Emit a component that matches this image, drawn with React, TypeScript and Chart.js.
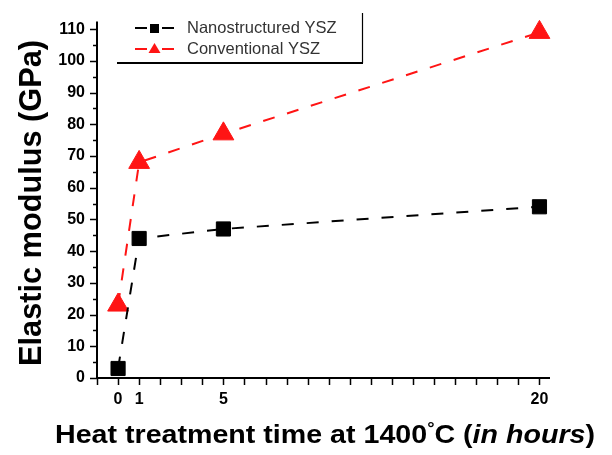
import React, { useEffect, useRef } from 'react';
import { Chart, registerables } from 'chart.js';
Chart.register(...registerables);

// ---- data ----
const hours = [0, 1, 5, 20];
const nanoYSZ = [3, 44, 47, 54];
const convYSZ = [23, 68, 77, 109];
const xLabelValues = [0, 1, 5, 20];
const seriesNames = ['Nanostructured YSZ', 'Conventional YSZ'];
const yAxisTitle = 'Elastic modulus (GPa)';
const xTitleParts = [
  { text: 'Heat treatment time at 1400', kind: 'normal' },
  { text: '°', kind: 'sup' },
  { text: 'C (', kind: 'normal' },
  { text: 'in hours', kind: 'italic' },
  { text: ')', kind: 'normal' },
];

const FONT = '"Liberation Sans", Arial, sans-serif';
const RED = '#ff1414';
const BLACK = '#000000';

const decorPlugin = {
  id: 'decor',
  afterDraw(chart: any) {
    const ctx = chart.ctx as CanvasRenderingContext2D;
    const xs = chart.scales.x;
    const ys = chart.scales.y;
    const area = chart.chartArea;
    ctx.save();
    ctx.strokeStyle = '#000';
    ctx.fillStyle = '#000';
    ctx.setLineDash([]);

    // axes lines
    ctx.lineWidth = 2;
    ctx.beginPath();
    ctx.moveTo(area.left, area.top);
    ctx.lineTo(area.left, area.bottom + 1);
    ctx.moveTo(area.left - 1, area.bottom);
    ctx.lineTo(area.right, area.bottom);
    ctx.stroke();

    // x ticks
    ctx.lineWidth = 1.5;
    ctx.beginPath();
    for (let v = -1; v <= 20; v++) {
      const px = Math.round(xs.getPixelForValue(v)) + 0.5;
      ctx.moveTo(px, area.bottom);
      ctx.lineTo(px, area.bottom + 7);
    }
    // y ticks
    for (let v = 0; v <= 110; v += 5) {
      const py = Math.round(ys.getPixelForValue(v)) + 0.5;
      const len = v % 10 === 0 ? 7 : 4;
      ctx.moveTo(area.left, py);
      ctx.lineTo(area.left - len, py);
    }
    ctx.stroke();

    // y title
    ctx.save();
    let ySize = 30;
    ctx.font = `bold ${ySize}px ${FONT}`;
    const w30 = ctx.measureText(yAxisTitle).width;
    ySize = Math.max(24, Math.min(34, (30 * 326) / w30));
    ctx.font = `bold ${ySize}px ${FONT}`;
    ctx.translate(41, 203);
    ctx.rotate(-Math.PI / 2);
    ctx.textAlign = 'center';
    ctx.textBaseline = 'alphabetic';
    ctx.fillText(yAxisTitle, 0, 0);
    ctx.restore();

    // x title
    ctx.save();
    const base = 25;
    const fontFor = (k: string) =>
      k === 'italic'
        ? `italic bold ${base}px ${FONT}`
        : k === 'sup'
        ? `bold ${Math.round(base * 0.62)}px ${FONT}`
        : `bold ${base}px ${FONT}`;
    let total = 0;
    const widths = xTitleParts.map((p) => {
      ctx.font = fontFor(p.kind);
      const w = ctx.measureText(p.text).width;
      total += w;
      return w;
    });
    const target = 540;
    const sx = target / total;
    ctx.translate(55, 443);
    ctx.scale(sx, 1);
    ctx.textAlign = 'left';
    ctx.textBaseline = 'alphabetic';
    let cx = 0;
    xTitleParts.forEach((p, i) => {
      ctx.font = fontFor(p.kind);
      const dy = p.kind === 'sup' ? -9 : 0;
      ctx.fillText(p.text, cx, dy);
      cx += widths[i];
    });
    ctx.restore();

    // legend
    ctx.lineWidth = 2;
    ctx.beginPath();
    ctx.moveTo(117, 63);
    ctx.lineTo(363, 63);
    ctx.stroke();
    ctx.lineWidth = 1.2;
    ctx.beginPath();
    ctx.moveTo(362.5, 13);
    ctx.lineTo(362.5, 63);
    ctx.stroke();

    const rows = [
      { y: 28, color: BLACK, marker: 'rect', base: 33 },
      { y: 49, color: RED, marker: 'tri', base: 54 },
    ];
    rows.forEach((r, i) => {
      ctx.strokeStyle = r.color;
      ctx.fillStyle = r.color;
      ctx.lineWidth = 2;
      ctx.beginPath();
      ctx.moveTo(135, r.y);
      ctx.lineTo(147, r.y);
      ctx.moveTo(162, r.y);
      ctx.lineTo(174, r.y);
      ctx.stroke();
      ctx.beginPath();
      if (r.marker === 'rect') {
        ctx.rect(150, r.y - 4, 9, 9);
      } else {
        ctx.moveTo(154.5, r.y - 6);
        ctx.lineTo(160.5, r.y + 4);
        ctx.lineTo(148.5, r.y + 4);
        ctx.closePath();
      }
      ctx.fill();
      ctx.fillStyle = '#333';
      ctx.font = `16.5px ${FONT}`;
      ctx.textAlign = 'left';
      ctx.textBaseline = 'alphabetic';
      ctx.fillText(seriesNames[i], 187, r.base);
    });

    ctx.restore();
  },
};

export default function App() {
  const ref = useRef<HTMLCanvasElement | null>(null);
  useEffect(() => {
    document.body.style.margin = '0';
    const canvas = ref.current!;
    const chart = new Chart(canvas, {
      type: 'line',
      data: {
        datasets: [
          {
            label: seriesNames[0],
            data: hours.map((h, i) => ({ x: h, y: nanoYSZ[i] })),
            borderColor: BLACK,
            backgroundColor: BLACK,
            borderWidth: 2,
            borderDash: [12, 13],
            pointStyle: 'rect',
            pointRadius: 10,
            pointBorderWidth: 1,
            pointBorderColor: BLACK,
            pointBackgroundColor: BLACK,
            tension: 0,
            clip: false as any,
          },
          {
            label: seriesNames[1],
            data: hours.map((h, i) => ({ x: h, y: convYSZ[i] })),
            borderColor: RED,
            backgroundColor: RED,
            borderWidth: 2,
            borderDash: [12, 13],
            pointStyle: 'triangle',
            pointRadius: 12,
            pointBorderWidth: 1,
            pointBorderColor: RED,
            pointBackgroundColor: RED,
            tension: 0,
            clip: false as any,
          },
        ],
      },
      options: {
        animation: false,
        responsive: false,
        maintainAspectRatio: false,
        devicePixelRatio: 1,
        layout: { padding: { left: 0, top: 8, right: 62, bottom: 0 } },
        plugins: { legend: { display: false }, tooltip: { enabled: false } },
        scales: {
          x: {
            type: 'linear',
            min: -1,
            max: 20.5,
            grid: { display: false, drawTicks: false },
            border: { display: false },
            ticks: {
              stepSize: 1,
              includeBounds: false,
              autoSkip: false,
              maxRotation: 0,
              padding: 12,
              color: '#000',
              font: { family: FONT, size: 16, weight: 'bold' },
              callback: (v: any) => (xLabelValues.includes(Number(v)) ? String(v) : ''),
            },
            afterFit: (s: any) => {
              s.height = 77;
            },
          },
          y: {
            type: 'linear',
            min: 0,
            max: 112.4,
            grid: { display: false, drawTicks: false },
            border: { display: false },
            ticks: {
              stepSize: 10,
              includeBounds: false,
              autoSkip: false,
              padding: 12,
              color: '#000',
              font: { family: FONT, size: 16, weight: 'bold' },
              callback: (v: any) => {
                const n = Number(v);
                return n % 10 === 0 && n <= 110 ? String(n) : '';
              },
            },
            afterFit: (s: any) => {
              s.width = 97;
            },
          },
        },
      },
      plugins: [decorPlugin],
    } as any);
    return () => chart.destroy();
  }, []);
  return (
    <div style={{ width: 612, height: 455 }}>
      <canvas ref={ref} width={612} height={455} style={{ display: 'block', width: 612, height: 455 }} />
    </div>
  );
}
